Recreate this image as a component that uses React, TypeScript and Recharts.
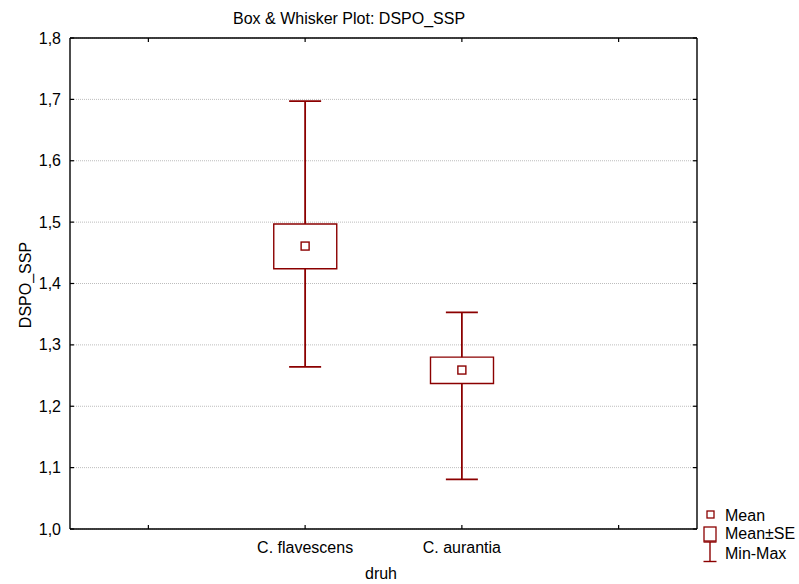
import { Bar, CartesianGrid, ComposedChart, ErrorBar, Scatter, XAxis, YAxis } from "recharts";

// outer slots are empty categories, like the reference's extra ticks
const categories = ["_left", "C. flavescens", "C. aurantia", "_right"];
const means = [null, 1.461, 1.259, null];
const seLow = [null, 1.424, 1.237, null];
const seHigh = [null, 1.497, 1.28, null];
const mins = [null, 1.264, 1.081, null];
const maxs = [null, 1.697, 1.353, null];
const yTicks = [1.0, 1.1, 1.2, 1.3, 1.4, 1.5, 1.6, 1.7, 1.8];

const RED = "#8b0000";
const FONT = "'Liberation Sans', Arial, sans-serif";

const data = categories.map((name, i) => ({
  name,
  mean: means[i],
  se: seLow[i] == null ? null : [seLow[i], seHigh[i]],
  minMax: means[i] == null ? null : [means[i]! - mins[i]!, maxs[i]! - means[i]!],
}));

const fmt = (v: number) => v.toFixed(1).replace(".", ",");

function LeftTick({ x, y, payload }: any) {
  return (
    <g>
      <line x1={x + 9} x2={x + 13} y1={y} y2={y} stroke="#000" strokeWidth={1.2} />
      <text x={x} y={y} dy={5.5} textAnchor="end" fontSize={16} fontFamily={FONT} fill="#000">
        {fmt(payload.value)}
      </text>
    </g>
  );
}

function RightTick({ x, y }: any) {
  return <line x1={x - 4} x2={x} y1={y} y2={y} stroke="#000" strokeWidth={1.2} />;
}

function BottomTick({ x, y, payload }: any) {
  const axisY = y - 13;
  const label = String(payload.value).startsWith("_") ? "" : payload.value;
  return (
    <g>
      <line x1={x} x2={x} y1={axisY} y2={axisY - 4} stroke="#000" strokeWidth={1.2} />
      <text x={x} y={axisY + 24} textAnchor="middle" fontSize={16} fontFamily={FONT} fill="#000">
        {label}
      </text>
    </g>
  );
}

function TopTick({ x, y }: any) {
  return <line x1={x} x2={x} y1={y} y2={y + 4} stroke="#000" strokeWidth={1.2} />;
}

function MeanDot(p: any) {
  if (p.payload?.mean == null) return <g />;
  return (
    <rect x={p.cx - 4} y={p.cy - 4} width={8} height={8} fill="#fff" stroke={RED} strokeWidth={1.4} />
  );
}

function Legend() {
  return (
    <g fontFamily={FONT} fontSize={16} fill="#000">
      <rect x={707} y={511} width={7} height={7} fill="#fff" stroke={RED} strokeWidth={1.3} />
      <text x={725} y={521}>Mean</text>
      <rect x={704} y={527} width={12} height={14} fill="#fff" stroke={RED} strokeWidth={1.3} />
      <text x={725} y={538.5}>Mean±SE</text>
      <line x1={703.5} x2={716.5} y1={542} y2={542} stroke={RED} strokeWidth={1.4} />
      <line x1={710} x2={710} y1={542} y2={561.5} stroke={RED} strokeWidth={1.4} />
      <line x1={703.5} x2={716.5} y1={561.5} y2={561.5} stroke={RED} strokeWidth={1.4} />
      <text x={725} y={558.5}>Min-Max</text>
    </g>
  );
}

export default function App() {
  return (
    <div style={{ position: "absolute", left: 0, top: 0, width: 799, height: 584, background: "#fff" }}>
      <ComposedChart
        width={799}
        height={584}
        data={data}
        margin={{ top: 37, right: 101, left: 0, bottom: 0 }}
      >
        <CartesianGrid vertical={false} stroke="#bdbdbd" strokeDasharray="1 1" />
        <XAxis
          dataKey="name"
          height={55}
          tickSize={0}
          tickMargin={13}
          interval={0}
          tick={<BottomTick />}
          axisLine={{ stroke: "#000", strokeWidth: 1.4 }}
        />
        <XAxis
          xAxisId="top"
          dataKey="name"
          orientation="top"
          height={1}
          tickSize={0}
          tickMargin={0}
          interval={0}
          tick={<TopTick />}
          axisLine={{ stroke: "#000", strokeWidth: 1.4 }}
        />
        <YAxis
          width={70}
          domain={[1, 1.8]}
          ticks={yTicks}
          interval={0}
          tickSize={0}
          tickMargin={9}
          tick={<LeftTick />}
          axisLine={{ stroke: "#000", strokeWidth: 1.4 }}
        />
        <YAxis
          yAxisId="right"
          orientation="right"
          width={1}
          domain={[1, 1.8]}
          ticks={yTicks}
          interval={0}
          tickSize={0}
          tickMargin={0}
          tick={<RightTick />}
          axisLine={{ stroke: "#000", strokeWidth: 1.4 }}
        />
        {/* whiskers, attached to the top/right axes so those axes get drawn */}
        <Scatter
          dataKey="mean"
          xAxisId="top"
          yAxisId="right"
          shape={() => <g />}
          isAnimationActive={false}
          zIndex={400}
        >
          <ErrorBar dataKey="minMax" direction="y" width={16} stroke={RED} strokeWidth={1.8} zIndex={400} />
        </Scatter>
        <Bar
          dataKey="se"
          barSize={63}
          fill="#fff"
          stroke={RED}
          strokeWidth={1.4}
          isAnimationActive={false}
          zIndex={650}
        />
        <Scatter dataKey="mean" shape={<MeanDot />} isAnimationActive={false} zIndex={700} />
      </ComposedChart>
      <svg
        width={799}
        height={584}
        style={{ position: "absolute", left: 0, top: 0, pointerEvents: "none" }}
      >
        <text x={233} y={24} fontSize={16} fontFamily={FONT} fill="#000">
          Box &amp; Whisker Plot: DSPO_SSP
        </text>
        <text
          x={31}
          y={285}
          transform="rotate(-90 31 285)"
          textAnchor="middle"
          fontSize={16}
          fontFamily={FONT}
          fill="#000"
        >
          DSPO_SSP
        </text>
        <text x={381} y={579} textAnchor="middle" fontSize={16} fontFamily={FONT} fill="#000">
          druh
        </text>
        <Legend />
      </svg>
    </div>
  );
}
